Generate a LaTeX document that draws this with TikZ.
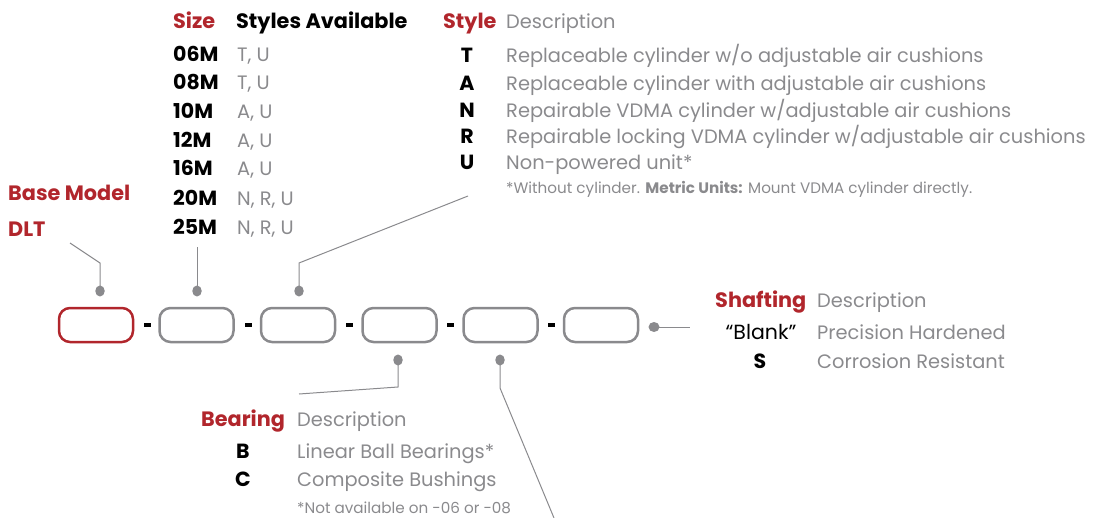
\documentclass[tikz,border=0pt]{standalone}
\usepackage{fontspec}
\setmainfont{Poppins}
\usetikzlibrary{shapes.geometric}
\definecolor{dred}{HTML}{B1262C}
\definecolor{tgrey}{HTML}{8A8A8D}
\definecolor{lgrey}{HTML}{8A8A8D}
\begin{document}
\begin{tikzpicture}[x=1pt,y=-1pt,
  hdr/.style={font=\fontsize{20.8}{22}\selectfont\bfseries, text=dred, inner sep=0pt, anchor=mid west, yshift=-5pt},
  hdrb/.style={font=\fontsize{20.8}{22}\selectfont\bfseries, text=black, inner sep=0pt, anchor=mid west, yshift=-5pt},
  code/.style={font=\fontsize{20.5}{22}\selectfont\bfseries, text=black, inner sep=0pt, yshift=-5pt},
  desc/.style={font=\fontsize{19.4}{22}\selectfont, text=tgrey, inner sep=0pt, anchor=mid west, yshift=-5pt},
  note/.style={font=\fontsize{15.2}{17}\selectfont, text=tgrey, inner sep=0pt, anchor=mid west, yshift=-4pt},
  slot/.style={draw=lgrey, line width=2.5pt, rounded corners=11pt, minimum width=74pt, minimum height=34pt, inner sep=0pt},
  dot/.style={ellipse, fill=lgrey, minimum width=9.5pt, minimum height=11pt, inner sep=0pt},
  sep/.style={fill=black, minimum width=7pt, minimum height=4pt, inner sep=0pt},
  conn/.style={draw=lgrey, line width=1pt}]
\useasboundingbox (0,0) rectangle (1099,518);

% slots
\node[slot, draw=dred] (b1) at (96,325) {};
\node[slot] (b2) at (196.5,325) {};
\node[slot] (b3) at (298,325) {};
\node[slot] (b4) at (399.5,325) {};
\node[slot] (b5) at (500.5,325) {};
\node[slot] (b6) at (601,325) {};
\node[sep] (s1) at (147,325) {};
\node[sep] (s2) at (248,325) {};
\node[sep] (s3) at (349.5,325) {};
\node[sep] (s4) at (450.5,325) {};
\node[sep] (s5) at (551.5,325) {};

% dots
\node[dot] (d1) at (100,291) {};
\node[dot] (d2) at (197,291) {};
\node[dot] (d3) at (299,291) {};
\node[dot] (d4) at (398,360) {};
\node[dot] (d5) at (500,360) {};
\node[dot, minimum width=11pt, minimum height=10pt] (d6) at (654,327) {};

% connector ends
\coordinate (k1) at (100,263);
\coordinate (e1) at (70,243);
\coordinate (e2) at (197,247);
\coordinate (k3) at (299,263);
\coordinate (e3) at (468,196);
\coordinate (k4) at (398,387);
\coordinate (e4) at (299,394);
\coordinate (k5) at (500,388);
\coordinate (e5) at (554,518);
\coordinate (e6) at (690,327);

\draw[conn] (d1.center) -- (k1) -- (e1);
\draw[conn] (d2.center) -- (e2);
\draw[conn] (d3.center) -- (k3) -- (e3);
\draw[conn] (d4.center) -- (k4) -- (e4);
\draw[conn] (d5.center) -- (k5) -- (e5);
\draw[conn] (d6.center) -- (e6);

% Base model
\node[hdr] (bm) at (8,193) {Base Model};
\node[hdr] (dlt) at (8,229) {DLT};

% Size table
\node[hdr] (sz) at (173,21) {Size};
\node[hdrb] (sa) at (236,21) {Styles Available};
\foreach \c/\s/\y [count=\i] in {06M/{T, U}/54, 08M/{T, U}/82, 10M/{A, U}/111, 12M/{A, U}/140, 16M/{A, U}/168, 20M/{N, R, U}/198, 25M/{N, R, U}/227}{
  \node[code, anchor=mid west] (sc\i) at (173,\y) {\c};
  \node[desc] (ss\i) at (237,\y) {\s};
}

% Style table
\node[hdr] (st) at (443,21) {Style};
\node[desc] (std) at (506,21) {Description};
\foreach \c/\s/\y [count=\i] in {T/{Replaceable cylinder w/o adjustable air cushions}/55, A/{Replaceable cylinder with adjustable air cushions}/83, N/{Repairable VDMA cylinder w/adjustable air cushions}/110, R/{Repairable locking VDMA cylinder w/adjustable air cushions}/136, U/{Non-powered unit*}/162}{
  \node[code, anchor=mid] (tc\i) at (467,\y) {\c};
  \node[desc] (td\i) at (506,\y) {\s};
}
\node[note] (tn) at (506,187) {*Without cylinder. \textbf{Metric Units:} Mount VDMA cylinder directly.};

% Shafting
\node[hdr] (sh) at (715,300) {Shafting};
\node[desc] (shd) at (817,300) {Description};
\node[font=\fontsize{20.5}{22}\selectfont, text=black, inner sep=0pt, anchor=mid, yshift=-5pt] (shb) at (761,332) {\char"201C Blank\char"201D};
\node[desc] (shbd) at (817,332) {Precision Hardened};
\node[code, anchor=mid] (shs) at (760,361) {S};
\node[desc] (shsd) at (817,361) {Corrosion Resistant};

% Bearing
\node[hdr] (br) at (201,419) {Bearing};
\node[desc] (brd) at (297,419) {Description};
\node[code, anchor=mid] (brb) at (243,451) {B};
\node[desc] (brbd) at (297,451) {Linear Ball Bearings*};
\node[code, anchor=mid] (brc) at (243,479) {C};
\node[desc] (brcd) at (297,479) {Composite Bushings};
\node[note] (brn) at (297,507) {*Not available on -06 or -08};
\end{tikzpicture}
\end{document}
